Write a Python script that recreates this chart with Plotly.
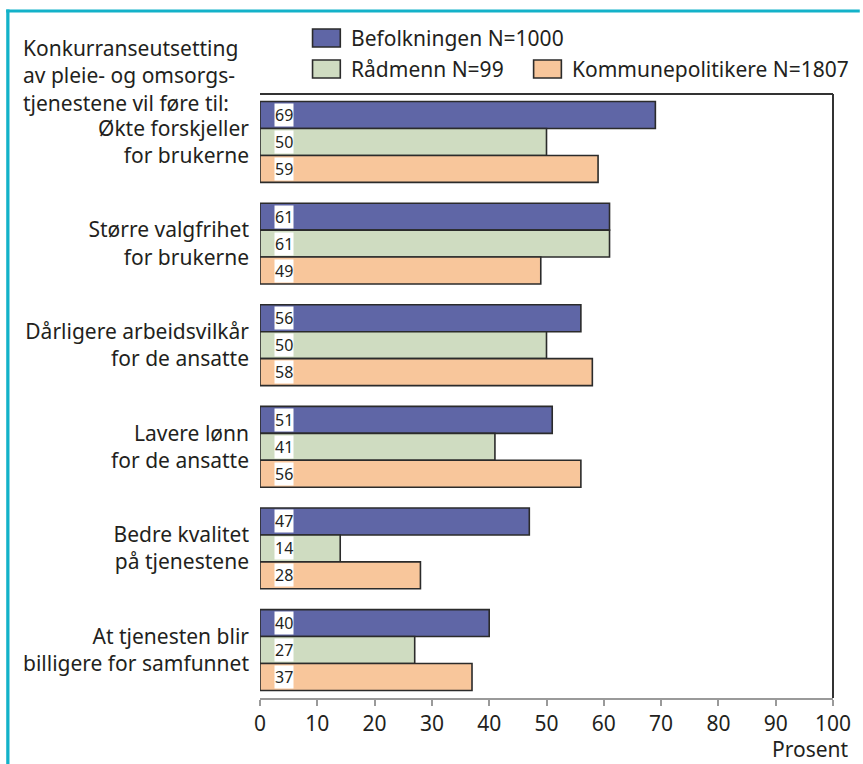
import plotly.graph_objects as go

# Survey data: share (%) agreeing that competitive tendering of care services leads to ...
categories = [
    "Økte forskjeller<br>for brukerne",
    "Større valgfrihet<br>for brukerne",
    "Dårligere arbeidsvilkår<br>for de ansatte",
    "Lavere lønn<br>for de ansatte",
    "Bedre kvalitet<br>på tjenestene",
    "At tjenesten blir<br>billigere for samfunnet",
]
series_names = ["Befolkningen N=1000", "Rådmenn N=99", "Kommunepolitikere N=1807"]
befolkningen = [69, 61, 56, 51, 47, 40]
radmenn = [50, 61, 50, 41, 14, 27]
kommunepolitikere = [59, 49, 58, 56, 28, 37]
title_text = "Konkurranseutsetting<br>av pleie- og omsorgs-<br>tjenestene vil føre til:"
x_ticks = list(range(0, 101, 10))

colors = ["#5f66a6", "#cfdcc1", "#f8c69b"]
FONT = "Noto Sans"
TXT = "#231f20"
FS = 21

# Figure geometry (pixels)
W, H = 863, 764
L, R, T, B = 260, 25, 94, 66
PW, PH = W - L - R, H - T - B


def px_x(px):
    return (px - L) / PW


def px_y(py):
    return (H - B - py) / PH


bar_w = 0.265
offsets = [-bar_w, 0.0, bar_w]
values = [befolkningen, radmenn, kommunepolitikere]

fig = go.Figure()
annotations = []
for name, vals, col, off in zip(series_names, values, colors, offsets):
    ys = [i + off for i in range(len(categories))]
    fig.add_trace(go.Bar(
        x=vals, y=ys, orientation="h", width=bar_w, name=name,
        marker=dict(color=col, line=dict(color="#2b2b2b", width=1.6)),
        showlegend=False, hoverinfo="x",
    ))
    for v, yv in zip(vals, ys):
        annotations.append(dict(
            x=2.5, y=yv, xref="x", yref="y", text=str(v), showarrow=False,
            xanchor="left", yanchor="middle", bgcolor="white", borderpad=0,
            font=dict(family=FONT, size=16, color=TXT),
        ))

# Heading in the upper left corner
annotations.append(dict(
    x=px_x(19), y=px_y(76), xref="paper", yref="paper", text=title_text,
    showarrow=False, xanchor="left", yanchor="middle", align="left",
    font=dict(family=FONT, size=FS, color=TXT),
))

# Legend built from boxes and labels
legend_items = [
    (series_names[0], colors[0], 313, 29),
    (series_names[1], colors[1], 313, 60),
    (series_names[2], colors[2], 536, 60),
]
shapes = []
for name, col, bx, by in legend_items:
    shapes.append(dict(
        type="rect", xref="paper", yref="paper",
        x0=px_x(bx), x1=px_x(bx + 28), y0=px_y(by), y1=px_y(by + 18),
        fillcolor=col, line=dict(color="#2b2b2b", width=1.6),
    ))
    annotations.append(dict(
        x=px_x(bx + 37), y=px_y(by + 9), xref="paper", yref="paper", text=name,
        showarrow=False, xanchor="left", yanchor="middle",
        font=dict(family=FONT, size=FS, color=TXT),
    ))

# Axis title
annotations.append(dict(
    x=px_x(856), y=px_y(749), xref="paper", yref="paper", text="Prosent",
    showarrow=False, xanchor="right", yanchor="middle",
    font=dict(family=FONT, size=FS, color=TXT),
))

# Plot frame: top and right edges
shapes.append(dict(type="line", xref="paper", yref="paper", x0=0, x1=1, y0=1, y1=1,
                   line=dict(color="#333333", width=2)))
shapes.append(dict(type="line", xref="paper", yref="paper", x0=1, x1=1, y0=0, y1=1,
                   line=dict(color="#333333", width=2)))

# Teal border along top and left
teal = "#13b2c9"
shapes.append(dict(type="rect", xref="paper", yref="paper",
                   x0=px_x(4), x1=px_x(W + 2), y0=px_y(9.5), y1=px_y(12.5),
                   fillcolor=teal, line=dict(width=0), layer="above"))
shapes.append(dict(type="rect", xref="paper", yref="paper",
                   x0=px_x(4), x1=px_x(7.3), y0=px_y(H + 2), y1=px_y(9.5),
                   fillcolor=teal, line=dict(width=0), layer="above"))

fig.update_layout(
    width=W, height=H,
    margin=dict(l=L, r=R, t=T, b=B, pad=0),
    paper_bgcolor="white", plot_bgcolor="white",
    barmode="overlay",
    font=dict(family=FONT, size=FS, color=TXT),
    xaxis=dict(
        range=[0, 100], tickvals=x_ticks, showgrid=False, zeroline=False,
        showline=True, linecolor="#9a9a9a", linewidth=2,
        ticks="outside", ticklen=6, tickwidth=2, tickcolor="#9a9a9a",
        tickfont=dict(family=FONT, size=FS, color=TXT),
    ),
    yaxis=dict(
        range=[len(categories) - 0.528, -0.472],
        tickvals=list(range(len(categories))), ticktext=categories,
        showgrid=False, zeroline=False, showline=False, ticks="",
        ticklabelstandoff=10,
        tickfont=dict(family=FONT, size=FS, color=TXT),
    ),
    shapes=shapes,
    annotations=annotations,
)

fig.write_html("out.html")
